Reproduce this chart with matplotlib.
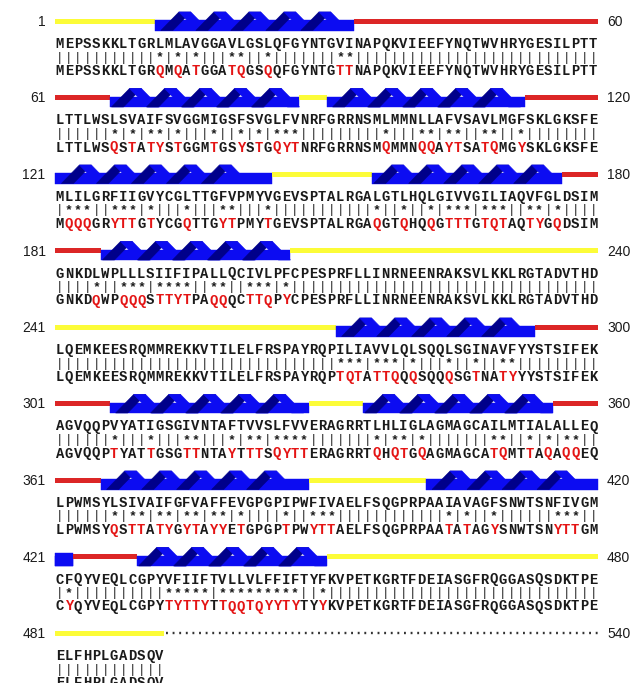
import matplotlib
matplotlib.use("Agg")
import matplotlib.pyplot as plt
from matplotlib.patches import Rectangle, Polygon

# wild type (top) and mutant (bottom) sequences, 60 residues per row
wt_rows = [
    "MEPSSKKLTGRLMLAVGGAVLGSLQFGYNTGVINAPQKVIEEFYNQTWVHRYGESILPTT",
    "LTTLWSLSVAIFSVGGMIGSFSVGLFVNRFGRRNSMLMMNLLAFVSAVLMGFSKLGKSFE",
    "MLILGRFIIGVYCGLTTGFVPMYVGEVSPTALRGALGTLHQLGIVVGILIAQVFGLDSIM",
    "GNKDLWPLLLSIIFIPALLQCIVLPFCPESPRFLLINRNEENRAKSVLKKLRGTADVTHD",
    "LQEMKEESRQMMREKKVTILELFRSPAYRQPILIAVVLQLSQQLSGINAVFYYSTSIFEK",
    "AGVQQPVYATIGSGIVNTAFTVVSLFVVERAGRRTLHLIGLAGMAGCAILMTIALALLEQ",
    "LPWMSYLSIVAIFGFVAFFEVGPGPIPWFIVAELFSQGPRPAAIAVAGFSNWTSNFIVGM",
    "CFQYVEQLCGPYVFIIFTVLLVLFFIFTYFKVPETKGRTFDEIASGFRQGGASQSDKTPE",
    "ELFHPLGADSQV",
]
mut_rows = [
    "MEPSSKKLTGRQMQATGGATQGSQQFGYNTGTTNAPQKVIEEFYNQTWVHRYGESILPTT",
    "LTTLWSQSTATYSTGGMTGSYSTGQYTNRFGRRNSMQMMNQQAYTSATQMGYSKLGKSFE",
    "MQQQGRYTTGTYCGQTTGYTPMYTGEVSPTALRGAQGTQHQQGTTTGTQTAQTYGQDSIM",
    "GNKDQWPQQQSTTYTPAQQQCTTQPYCPESPRFLLINRNEENRAKSVLKKLRGTADVTHD",
    "LQEMKEESRQMMREKKVTILELFRSPAYRQPTQTATTQQQSQQQSGTNATYYYSTSIFEK",
    "AGVQQPTYATTGSGTTNTAYTTTSQYTTERAGRRTQHQTGQAGMAGCATQMTTAQAQQEQ",
    "LPWMSYQSTTATYGYTAYYETGPGPTPWYTTAELFSQGPRPAATATAGYSNWTSNYTTGM",
    "CYQYVEQLCGPYTYTTYTTQQTQYYTYTYYKVPETKGRTFDEIASGFRQGGASQSDKTPE",
    "ELFHPLGADSQV",
]

# secondary structure: kind, first residue, last residue
ss_kind = ["out", "helix", "in", "helix", "out", "helix", "in", "helix", "out",
           "helix", "in", "helix", "out", "helix", "in", "helix", "out", "helix",
           "in", "helix", "out", "helix", "in", "helix", "out", "none"]
ss_start = [1, 12, 34, 67, 88, 91, 113, 121, 145, 156, 177, 186, 207, 272, 294,
            307, 329, 335, 356, 366, 389, 402, 423, 430, 451, 493]
ss_end = [11, 33, 66, 87, 90, 112, 120, 144, 155, 176, 185, 206, 271, 293, 306,
          328, 334, 355, 365, 388, 401, 422, 429, 450, 492, 540]

X0, CW = 55.4, 9.04
ROW0, DY = 21.0, 76.5
YELLOW, RED = "#fcfc38", "#dc2626"
BLUE, NAVY = "#0c0cf2", "#00008a"
RED_TXT, TXT = "#e41414", "#1a1a1a"


def xpos(j):
    return X0 + j * CW


def draw_helix(ax, xa, xb, yc, whole=True):
    top, bot = yc - 9, yc + 9.5
    ax.add_patch(Rectangle((xa, yc - 1), xb - xa, bot - yc + 1, fc=BLUE, ec=BLUE, lw=0.3))
    if not whole:
        ax.add_patch(Rectangle((xa, yc - 4), xb - xa, bot - yc + 4, fc=BLUE, ec=BLUE, lw=0.3))
        return
    run, w, p = 18, 12, 35
    L = xb - xa
    n = int((L - 2 * run - w) // p) + 1
    spare = L - ((n - 1) * p + 2 * run + w)
    start = xa + min(spare, 6)
    for i in range(n):
        x0 = start + p * i
        ax.add_patch(Polygon([(x0, bot), (x0 + run, top), (x0 + run + w, top),
                              (x0 + w, bot)], closed=True, fc=NAVY, ec=NAVY, lw=0.4))
        ax.add_patch(Polygon([(x0 + run, top), (x0 + run + w, top),
                              (x0 + 2 * run + w, bot), (x0 + 2 * run, bot)],
                             closed=True, fc=BLUE, ec=BLUE, lw=0.4))


fig = plt.figure(figsize=(6.38, 6.83), dpi=100)
ax = fig.add_axes([0, 0, 1, 1])
ax.set_xlim(0, 638)
ax.set_ylim(683, 0)
ax.axis("off")

for r in range(len(wt_rows)):
    yc = ROW0 + r * DY
    first, last = 60 * r + 1, 60 * r + 60
    ax.text(45.5, yc + 1, str(first), ha="right", va="center",
            fontsize=10, family="Liberation Sans", color=TXT)
    ax.text(607, yc + 1, str(last), ha="left", va="center",
            fontsize=10, family="Liberation Sans", color=TXT)

    # secondary structure bar, clipped to this row
    for kind, a, b in zip(ss_kind, ss_start, ss_end):
        a2, b2 = max(a, first), min(b, last)
        if a2 > b2:
            continue
        xa, xb = xpos(a2 - first), xpos(b2 - first + 1)
        if kind == "helix":
            draw_helix(ax, xa, xb, yc, whole=(b2 - a2) > 3)
        elif kind == "none":
            ax.plot([xa + 2, xb], [yc, yc], color="#333333", lw=1.7,
                    linestyle=(0, (0.8, 2.0)))
        else:
            ax.add_patch(Rectangle((xa, yc - 2.5), xb - xa, 5,
                                   color=YELLOW if kind == "out" else RED, lw=0))

    wt, mt = wt_rows[r], mut_rows[r]
    for j, (a, b) in enumerate(zip(wt, mt)):
        xc = xpos(j) + CW / 2
        ax.text(xc, yc + 23, a, ha="center", va="center", fontsize=10,
                family="Liberation Mono", weight="bold", color=TXT)
        if a == b:
            ax.text(xc, yc + 36.5, "|", ha="center", va="center", fontsize=9,
                    family="Liberation Mono", color=TXT)
        else:
            ax.text(xc, yc + 36.3, "*", ha="center", va="center", fontsize=9.5,
                    family="Liberation Mono", weight="bold", color=TXT)
        ax.text(xc, yc + 50, b, ha="center", va="center", fontsize=10,
                family="Liberation Mono", weight="bold",
                color=TXT if a == b else RED_TXT)

fig.savefig("out.png", dpi=100, facecolor="white")
